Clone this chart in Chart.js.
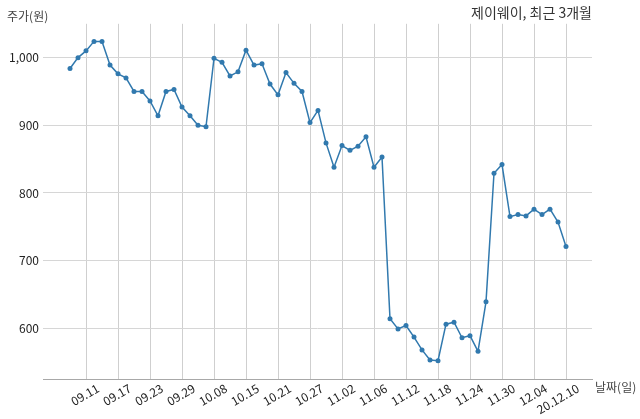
<!DOCTYPE html>
<html>
<head>
<meta charset="utf-8">
<script src="https://cdn.jsdelivr.net/npm/chart.js@4"></script>
<style>
  body { margin: 0; background: #fff; }
  canvas { display: block; }
</style>
</head>
<body>
<canvas id="grafico" width="640" height="419"></canvas>
<script>
// date di negoziazione (ultimi 3 mesi)
const dates = [
  "09.09", "09.10", "09.11", "09.14", "09.15", "09.16", "09.17", "09.18", "09.21", "09.22",
  "09.23", "09.24", "09.25", "09.28", "09.29", "10.05", "10.06", "10.07", "10.08", "10.12",
  "10.13", "10.14", "10.15", "10.16", "10.19", "10.20", "10.21", "10.22", "10.23", "10.26",
  "10.27", "10.28", "10.29", "10.30", "11.02", "11.03", "11.04", "11.05", "11.06", "11.09",
  "11.10", "11.11", "11.12", "11.13", "11.16", "11.17", "11.18", "11.19", "11.20", "11.23",
  "11.24", "11.25", "11.26", "11.27", "11.30", "12.01", "12.02", "12.03", "12.04", "12.07",
  "12.08", "12.09", "20.12.10"
];

const prices = [
  984, 1000, 1010, 1024, 1024, 989, 976, 970, 950, 950,
  936, 914, 950, 953, 927, 914, 900, 898, 999, 993,
  973, 979, 1011, 989, 991, 961, 945, 978, 962, 950,
  904, 922, 874, 838, 870, 863, 869, 883, 838, 853,
  614, 599, 604, 587, 568, 553, 552, 606, 609, 586,
  589, 566, 639, 829, 842, 765, 768, 766, 776, 768,
  776, 757, 721
];

// indici delle etichette mostrate sull'asse x
const xTickIdx = [2, 6, 10, 14, 18, 22, 26, 30, 34, 38, 42, 46, 50, 54, 58, 62];
const yTicks = [600, 700, 800, 900, 1000];

const FONT = "'Noto Sans CJK KR', 'Noto Sans', sans-serif";
const LINE = '#3179ae';

// etichette degli assi (in alto a sinistra e a destra dell'asse x)
const axisLabels = {
  id: 'axisLabels',
  afterDraw(c) {
    const ctx = c.ctx;
    ctx.save();
    ctx.font = "12px " + FONT;
    ctx.fillStyle = '#444';
    ctx.textBaseline = 'middle';
    ctx.textAlign = 'left';
    ctx.fillText('주가(원)', 7, 16);
    ctx.fillText('날짜(일)', c.chartArea.right + 3, c.chartArea.bottom + 8);
    ctx.restore();
  }
};

const ctx = document.getElementById("grafico").getContext("2d");

const chart = new Chart(ctx, {
  type: 'line',
  data: {
    datasets: [{
      data: dates.map((d, i) => ({ x: i, y: prices[i] })),
      borderColor: LINE,
      backgroundColor: LINE,
      borderWidth: 1.5,
      pointRadius: 2.5,
      pointBorderWidth: 0,
      tension: 0,
      fill: false
    }]
  },
  options: {
    responsive: false,
    animation: false,
    devicePixelRatio: 1,
    layout: { padding: { left: 0, right: 48, top: 0, bottom: 0 } },
    plugins: {
      legend: { display: false },
      tooltip: { enabled: false },
      title: {
        display: true,
        text: '제이웨이, 최근 3개월',
        align: 'end',
        color: '#333',
        font: { family: FONT, size: 14, weight: 'normal' },
        padding: { top: 4, bottom: 3 }
      }
    },
    scales: {
      x: {
        type: 'linear',
        min: -3.375,
        max: 65.25,
        afterBuildTicks: s => { s.ticks = xTickIdx.map(v => ({ value: v })); },
        afterFit: s => { s.height = 40; },
        grid: { color: '#cfcfcf', lineWidth: 1, drawTicks: false },
        border: { display: true, color: '#a8a8a8', width: 1 },
        ticks: {
          autoSkip: false,
          minRotation: 30,
          maxRotation: 30,
          labelOffset: 12,
          padding: 2,
          color: '#222',
          font: { family: FONT, size: 12 },
          callback: v => dates[v]
        }
      },
      y: {
        min: 525,
        max: 1050,
        afterBuildTicks: s => { s.ticks = yTicks.map(v => ({ value: v })); },
        afterFit: s => { s.width = 43; },
        grid: { color: '#d6d6d6', lineWidth: 1, drawTicks: false },
        border: { display: false },
        ticks: {
          padding: 4,
          color: '#222',
          font: { family: FONT, size: 12 },
          callback: v => v.toLocaleString('en-US')
        }
      }
    }
  },
  plugins: [axisLabels]
});
</script>
</body>
</html>
